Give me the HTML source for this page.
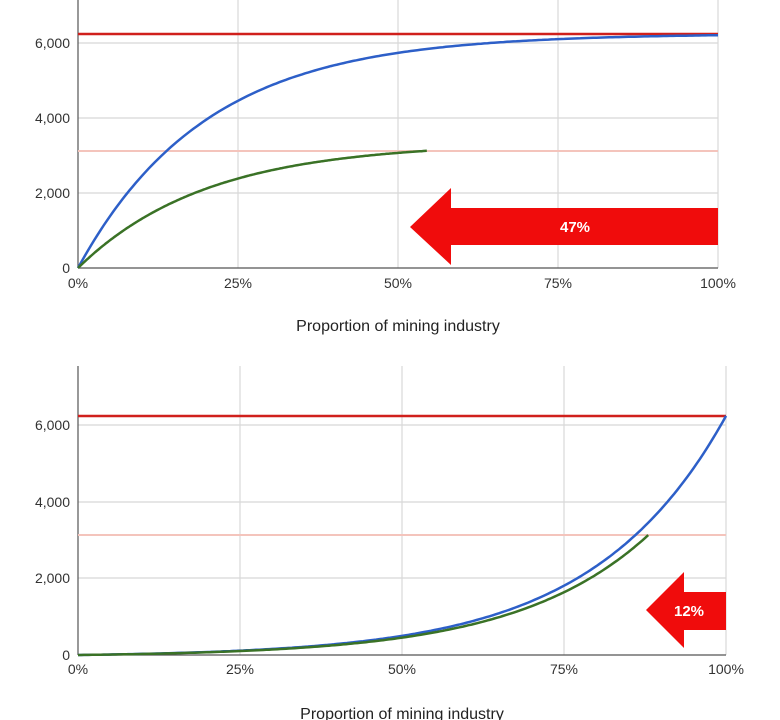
<!DOCTYPE html>
<html><head><meta charset="utf-8"><style>
body{margin:0;background:#fff;width:780px;height:720px;overflow:hidden}
svg{display:block}
text{font-family:"Liberation Sans",Arial,sans-serif}
</style></head><body>
<svg id="s" width="780" height="720" viewBox="0 0 780 720">
<g stroke="#d8d8d8" stroke-width="1.2">
<line x1="238" y1="0" x2="238" y2="268"/><line x1="398" y1="0" x2="398" y2="268"/><line x1="558" y1="0" x2="558" y2="268"/><line x1="718" y1="0" x2="718" y2="268"/>
<line x1="78" y1="43" x2="718" y2="43"/><line x1="78" y1="118" x2="718" y2="118"/><line x1="78" y1="193" x2="718" y2="193"/>
<line x1="240" y1="366" x2="240" y2="655"/><line x1="402" y1="366" x2="402" y2="655"/><line x1="564" y1="366" x2="564" y2="655"/><line x1="726" y1="366" x2="726" y2="655"/>
<line x1="78" y1="425" x2="726" y2="425"/><line x1="78" y1="502" x2="726" y2="502"/><line x1="78" y1="578" x2="726" y2="578"/>
</g>
<line x1="78" y1="0" x2="78" y2="268" stroke="#555" stroke-width="1.2"/>
<line x1="78" y1="268" x2="718" y2="268" stroke="#555" stroke-width="1.2"/>
<line x1="78" y1="366" x2="78" y2="655" stroke="#555" stroke-width="1.2"/>
<line x1="78" y1="655" x2="726" y2="655" stroke="#555" stroke-width="1.2"/>
<line x1="78" y1="151" x2="718" y2="151" stroke="#f4c4bc" stroke-width="2"/>
<line x1="78" y1="535" x2="726" y2="535" stroke="#f4c4bc" stroke-width="2"/>
<line x1="78" y1="34" x2="718" y2="34" stroke="#d0201c" stroke-width="2.5"/>
<line x1="78" y1="416" x2="726" y2="416" stroke="#d0201c" stroke-width="2.5"/>
<path id="b1" fill="none" stroke="#2d5fc8" stroke-width="2.5"/>
<path id="g1" fill="none" stroke="#3a7226" stroke-width="2.5"/>
<path id="b2" fill="none" stroke="#2d5fc8" stroke-width="2.5"/>
<path id="g2" fill="none" stroke="#3a7226" stroke-width="2.5"/>
<polygon points="410,227 451,188 451,208 718,208 718,245 451,245 451,265" fill="#f00c0c"/>
<text x="575" y="232" font-size="15" font-weight="bold" fill="#fff" text-anchor="middle">47%</text>
<polygon points="646,610 684,572 684,592 726,592 726,630 684,630 684,648" fill="#f00c0c"/>
<text x="689" y="616" font-size="15" font-weight="bold" fill="#fff" text-anchor="middle">12%</text>
<g font-size="14" fill="#333" text-anchor="end">
<text x="70" y="48">6,000</text><text x="70" y="123">4,000</text><text x="70" y="198">2,000</text><text x="70" y="273">0</text>
<text x="70" y="430">6,000</text><text x="70" y="507">4,000</text><text x="70" y="583">2,000</text><text x="70" y="660">0</text>
</g>
<g font-size="14" fill="#333" text-anchor="middle">
<text x="78" y="288">0%</text><text x="238" y="288">25%</text><text x="398" y="288">50%</text><text x="558" y="288">75%</text><text x="718" y="288">100%</text>
<text x="78" y="674">0%</text><text x="240" y="674">25%</text><text x="402" y="674">50%</text><text x="564" y="674">75%</text><text x="726" y="674">100%</text>
<text x="398" y="331" font-size="16" fill="#222">Proportion of mining industry</text>
<text x="402" y="719" font-size="16" fill="#222">Proportion of mining industry</text>
</g>
</svg>
<script>
function mk(id,x0,x1,y0,s,f,xe){var d="";for(var i=0;i<=200;i++){var x=xe*i/200;d+=(i?"L":"M")+(x0+(x1-x0)*x).toFixed(1)+","+(y0-s*f(x)).toFixed(1);}document.getElementById(id).setAttribute("d",d);}
var k=5;
mk("b1",78,718,268,0.0375,function(x){return 6250*(1-Math.exp(-k*x))},1);
mk("g1",78,718,268,0.0375,function(x){return 3125*(1-Math.exp(-k*x))/(1-Math.exp(-k*0.545))},0.545);
var k2=4.88,D=Math.exp(k2)-1;
mk("b2",78,726,655,0.03825,function(x){return 6250*(Math.exp(k2*x)-1)/D},1);
mk("g2",78,726,655,0.03825,function(x){return 6250*0.906*(Math.exp(k2*x)-1)/D},0.88);
</script>
</body></html>
